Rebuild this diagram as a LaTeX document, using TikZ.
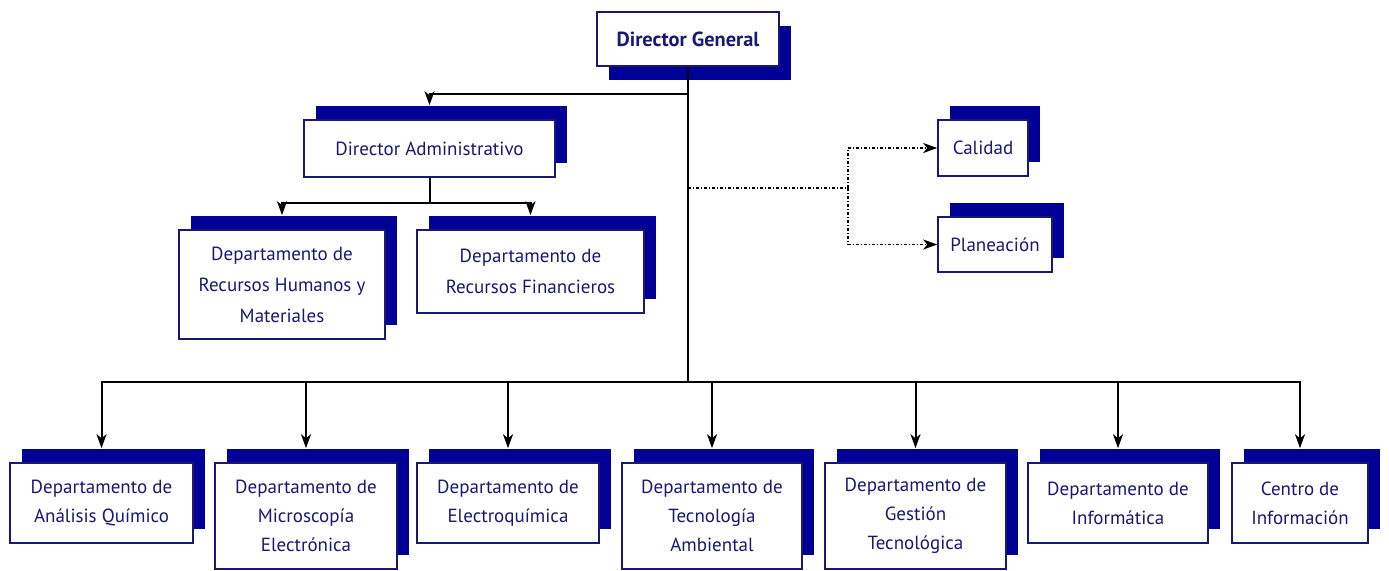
\documentclass[tikz,border=0pt]{standalone}
\usepackage{fontspec}
\setmainfont{PT Sans}
\usetikzlibrary{positioning, arrows.meta, shadows}
\definecolor{box_navy}{RGB}{25,25,115}
\definecolor{shade_navy}{RGB}{0,0,150}

\begin{document}
\begin{tikzpicture}
    [
        x=0.5pt, y=-0.5pt,
        plain_box/.style={rectangle, draw=box_navy, fill=white, line width=0.8pt, text=box_navy, align=center, inner sep=0pt, font=\fontsize{9.5}{14.5}\selectfont},
        org_box/.style={plain_box, general shadow={fill=shade_navy, shadow xshift=6pt, shadow yshift=7pt}},
        top_box/.style={plain_box, general shadow={fill=shade_navy, shadow xshift=6pt, shadow yshift=-7pt}},
        box_wh/.style 2 args={minimum width=#1*0.5pt, minimum height=#2*0.5pt},
        tree_line/.style={line width=1pt, color=black},
        tree_arrow/.style={tree_line, -{Stealth[length=7pt, width=5pt, inset=2pt]}, shorten >=7pt},
        dot_arrow/.style={line width=0.9pt, dash pattern=on 1.5pt off 1pt on 0.5pt off 1pt, -{Stealth[length=7pt, width=5pt, inset=2pt]}},
    ]
        \useasboundingbox (0,0) rectangle (1389,570) ;
        % upper part
        \node[top_box, box_wh={182}{54}, font=\fontsize{10.2}{14}\selectfont\bfseries] (dg) at (688,39) {Director General} ;
        \node[org_box, box_wh={251}{57}] (da) at (429.5,148.5) {Director Administrativo} ;
        \node[org_box, box_wh={206}{109}, font=\fontsize{9.5}{15.5}\selectfont] (rh) at (282,284.5) {Departamento de\\Recursos Humanos y\\Materiales} ;
        \node[org_box, box_wh={227}{83}, font=\fontsize{9.5}{15.5}\selectfont] (rf) at (530.5,271.5) {Departamento de\\Recursos Financieros} ;
        \node[org_box, box_wh={90}{56}] (cal) at (983,148) {Calidad} ;
        \node[org_box, box_wh={114}{55}] (pla) at (995,244.5) {Planeación} ;
        % lower row
        \node[org_box, box_wh={183}{80}] (aq) at (101.5,503) {Departamento de\\Análisis Químico} ;
        \node[org_box, box_wh={182}{106}] (me) at (306,516) {Departamento de\\Microscopía\\Electrónica} ;
        \node[org_box, box_wh={182}{80}] (eq) at (508,503) {Departamento de\\Electroquímica} ;
        \node[org_box, box_wh={180}{106}] (ta) at (712,516) {Departamento de\\Tecnología\\Ambiental} ;
        \node[org_box, box_wh={181}{106}] (gt) at (915.5,516) {Departamento de\\Gestión\\Tecnológica} ;
        \node[org_box, box_wh={180}{80}] (inf) at (1118,503) {Departamento de\\Informática} ;
        \node[org_box, box_wh={136}{80}] (ci) at (1300,503) {Centro de\\Información} ;
        % connectors
        \coordinate (j_top) at (688,94) ;
        \coordinate (j_adm) at (429.5,203) ;
        \coordinate (j_dot) at (688,188) ;
        \coordinate (j_staff) at (848,188) ;
        \coordinate (bus) at (688,382) ;
        \draw[tree_line] (dg.south) -- (bus) ;
        \draw[tree_arrow] (j_top) -| (da.north) ;
        \draw[tree_line] (da.south) -- (j_adm) ;
        \draw[tree_arrow] (j_adm) -| (rh.north) ;
        \draw[tree_arrow] (j_adm) -| (rf.north) ;
        \draw[dot_arrow, -] (j_dot) -- (j_staff) ;
        \draw[dot_arrow] (j_staff) |- (cal.west) ;
        \draw[dot_arrow] (j_staff) |- (pla.west) ;
        \foreach \n in {aq, me, eq, ta, gt, inf, ci}
            \draw[tree_arrow] (bus) -| (\n.north) ;
    \end{tikzpicture}
\end{document}
